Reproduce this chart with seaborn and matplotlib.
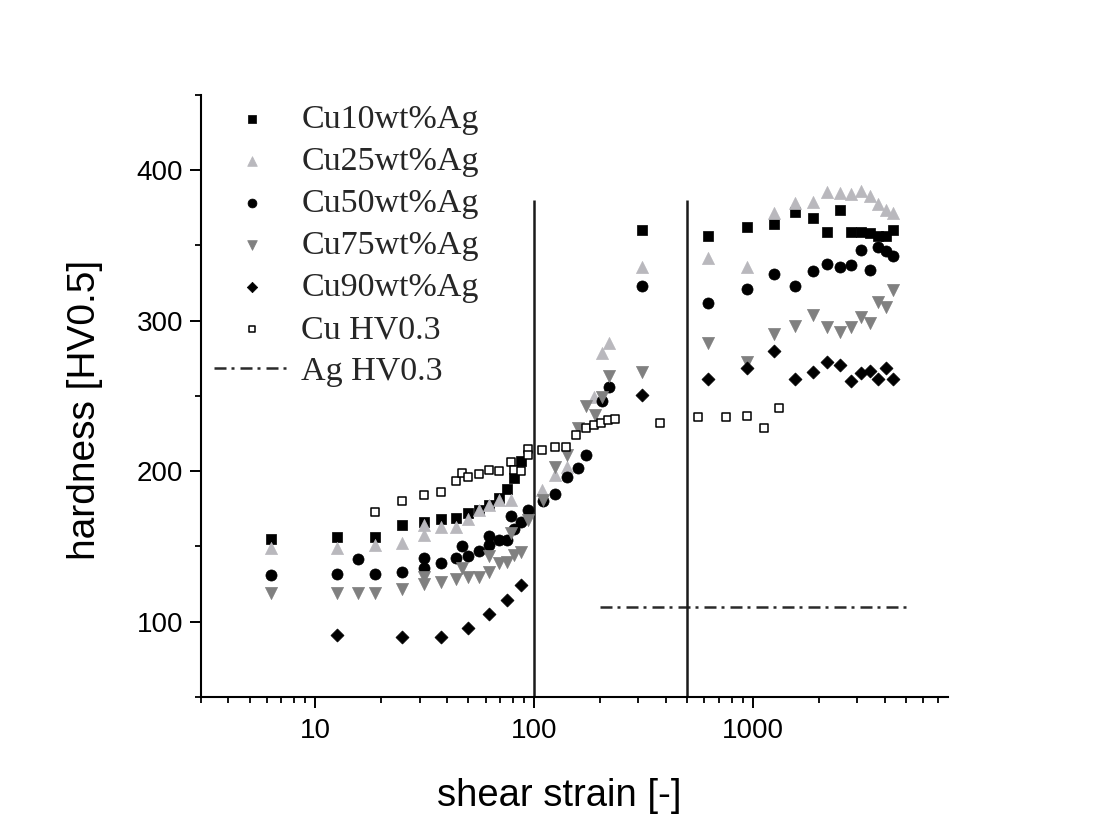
import numpy as np
import pandas as pd
import matplotlib
matplotlib.use("Agg")
import matplotlib.pyplot as plt
import seaborn as sns

# ---------------- data ----------------
cu10_x = [6.25, 12.5, 18.75, 25, 31.25, 37.5, 43.75, 50, 56.25, 62.5, 68.75, 75, 81.25, 87.5,
          312.5, 625, 937.5, 1250, 1562.5, 1875, 2187.5, 2500, 2812.5, 3125, 3437.5, 3750, 4062.5, 4375]
cu10_y = [155, 156.5, 156.5, 164, 166, 168, 169, 172, 174, 177.6, 182, 188, 195.5, 207,
          360, 356, 362.5, 364, 372, 368, 359, 373.6, 359, 359, 358, 356, 356, 360]

cu25_x = [6.25, 12.5, 18.75, 25, 31.25, 31.25, 37.5, 43.75, 50, 56.25, 62.5, 68.75, 78, 109, 125, 142,
          187.5, 204, 220, 312.5, 625, 937.5, 1250, 1562.5, 1875, 2187.5, 2500, 2812.5, 3125, 3437.5,
          3750, 4062.5, 4375]
cu25_y = [149, 149, 151, 152, 157.6, 164.3, 163, 163, 168, 174, 177.5, 181, 181, 187.5, 197.5, 203,
          249.6, 278.4, 285.4, 336, 341.5, 336, 371.8, 378, 379, 385.8, 385, 384, 386.4, 383,
          377.4, 373.6, 371.8]

cu50_x = [6.25, 12.5, 15.6, 18.75, 25, 31.25, 31.25, 37.5, 43.75, 46.9, 50, 56.25, 62.5, 62.5, 68.75,
          75, 78, 81.25, 87.5, 94, 110, 125, 142, 158, 173, 204, 220, 312.5, 625, 937.5, 1250, 1562.5,
          1875, 2187.5, 2500, 2812.5, 3125, 3437.5, 3750, 4062.5, 4375]
cu50_y = [131, 131.5, 141.5, 131.7, 133.3, 142.6, 136, 138.8, 142.1, 150.3, 143.7, 147.2, 151, 157, 154.3,
          154.3, 170, 161.5, 166, 174.5, 180.4, 185, 196.4, 202, 210.8, 246.9, 255.8, 323, 312, 321, 331, 323,
          333, 337.7, 336, 337, 347, 333.7, 348.8, 346.6, 343.2]

cu75_x = [6.25, 12.5, 15.6, 18.75, 25, 31.25, 31.25, 37.5, 43.75, 46.9, 50, 56.25, 62.5, 62.5, 68.75,
          75, 78, 81.25, 87.5, 94, 110, 125, 142, 158, 173, 190, 204, 220, 312.5, 625, 937.5, 1250,
          1562.5, 1875, 2187.5, 2500, 2812.5, 3125, 3437.5, 3750, 4062.5, 4375]
cu75_y = [119, 119, 119.3, 119, 121.5, 130, 125, 126.6, 128.2, 136, 130, 130, 143.7, 133.3, 138.8,
          140, 158.7, 144.3, 146.5, 167.5, 181, 203, 210.8, 229, 243.4, 237.4, 249, 263, 266, 285.4, 272.8, 291.2,
          296.7, 303.8, 295.6, 292.3, 296, 302.7, 298.7, 312.7, 309, 320.4]

cu90_x = [12.5, 25, 37.5, 50, 62.5, 75, 87.5, 312.5, 625, 937.5, 1250, 1562.5, 1875, 2187.5, 2500,
          2812.5, 3125, 3437.5, 3750, 4062.5, 4375]
cu90_y = [91.2, 90.1, 90.1, 95.6, 104.9, 114.4, 124.4, 250.7, 261, 268.4, 280, 261, 266.2, 272.8, 270.6,
          260, 265, 266.6, 261, 268.4, 261]

cu_x = [18.75, 25, 31.25, 37.5, 43.75, 46.9, 50, 56.25, 62.5, 68.75, 78, 81.25, 87.5, 93.75, 93.75, 109,
        125, 140.6, 156, 172, 187.5, 203, 218.75, 234, 375, 562, 750, 937.5, 1125, 1312]
cu_y = [173, 180, 184, 186, 193.5, 199, 196, 198, 201, 200, 206, 201, 200, 215, 211, 214,
        216, 216, 224, 228.5, 231, 232, 234, 235, 232, 236, 236, 237, 228.5, 242]

ag_x = [200, 5000]
ag_y = [110, 110]

vline_x = [100, 500]
vline_top = 380

labels = ["Cu10wt%Ag", "Cu25wt%Ag", "Cu50wt%Ag", "Cu75wt%Ag", "Cu90wt%Ag", "Cu HV0.3", "Ag HV0.3"]

# ---------------- style ----------------
sns.set_theme(style="ticks")
plt.rcParams["font.family"] = ["Liberation Sans", "DejaVu Sans"]

fig = plt.figure(figsize=(10.97, 8.34), dpi=100)
fig.patch.set_facecolor("white")
ax = fig.add_axes([0.1832, 0.1643, 0.6810, 0.7218])
ax.set_facecolor("white")

series = [
    (cu10_x, cu10_y, "s", "#000000", "#000000", 56, 0.5),
    (cu25_x, cu25_y, "^", "#b9b8bd", "#b9b8bd", 76, 0.5),
    (cu50_x, cu50_y, "o", "#000000", "#000000", 64, 0.5),
    (cu75_x, cu75_y, "v", "#808080", "#808080", 76, 0.5),
    (cu90_x, cu90_y, "D", "#000000", "#000000", 44, 0.5),
    (cu_x, cu_y, "s", "#ffffff", "#000000", 36, 1.1),
]
for (xs, ys, mk, fc, ec, s, lw), lab in zip(series, labels[:6]):
    df = pd.DataFrame({"x": xs, "y": ys})
    sns.scatterplot(data=df, x="x", y="y", marker=mk, color=fc, edgecolor=ec,
                    linewidth=lw, s=s, ax=ax, label=lab, zorder=3)

sns.lineplot(x=ag_x, y=ag_y, ax=ax, color="#2a2a2a", linewidth=1.8,
             linestyle=(0, (4.8, 2.0, 1.2, 2.4)), label=labels[6], zorder=2)

ax.vlines(vline_x, 50, vline_top, colors="#1a1a1a", linewidth=1.8, zorder=2)

ax.set_xscale("log")
ax.set_xlim(3, 7800)
ax.set_ylim(50, 450)
ax.set_yticks([100, 200, 300, 400])
ax.set_yticks([50, 150, 250, 350, 450], minor=True)
ax.set_xticks([10, 100, 1000])
ax.xaxis.set_major_formatter(matplotlib.ticker.FuncFormatter(lambda v, p: f"{v:g}"))
ax.xaxis.set_minor_formatter(matplotlib.ticker.NullFormatter())

for side in ["top", "right"]:
    ax.spines[side].set_visible(False)
for side in ["left", "bottom"]:
    ax.spines[side].set_linewidth(1.5)
    ax.spines[side].set_color("black")

ax.tick_params(axis="both", which="major", direction="out", length=8, width=1.4,
               labelsize=20, color="black", labelcolor="black", pad=5)
ax.tick_params(axis="both", which="minor", direction="out", length=4.5, width=1.3, color="black")
ax.tick_params(axis="x", which="major", pad=7)

ax.set_xlabel("shear strain [-]", fontsize=27.5, color="black")
ax.set_ylabel("hardness [HV0.5]", fontsize=28, color="black")
ax.xaxis.set_label_coords(0.479, -0.135)
ax.yaxis.set_label_coords(-0.131, 0.477)

h, l = ax.get_legend_handles_labels()
leg = ax.legend(h, l, loc="upper left", bbox_to_anchor=(0.018, 0.985), frameon=False,
                prop={"family": ["Liberation Serif", "DejaVu Serif"], "size": 24.5},
                labelspacing=0.33, handlelength=2.2, handletextpad=0.35,
                borderpad=0.0, borderaxespad=0.0, markerscale=0.8)

fig.savefig("out.png", dpi=100, facecolor="white")
